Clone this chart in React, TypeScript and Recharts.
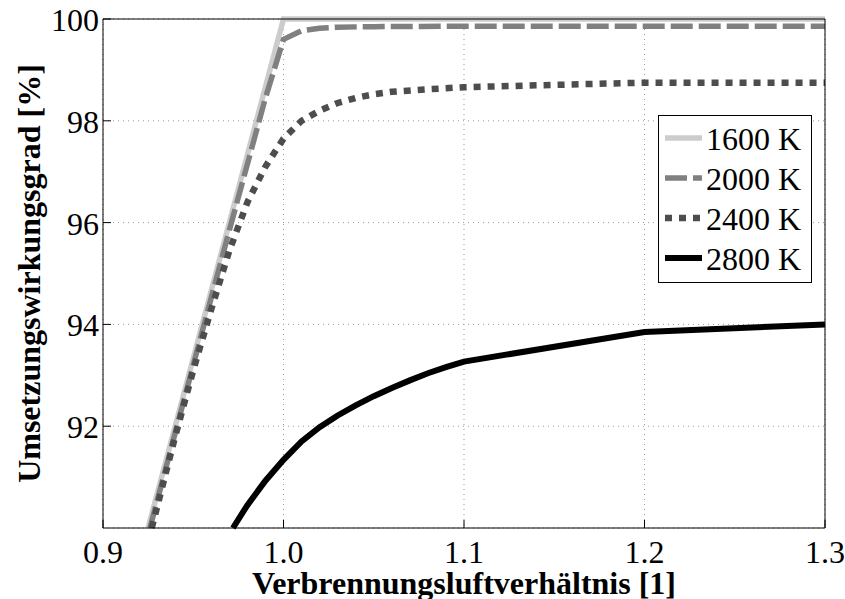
import { LineChart, Line, XAxis, YAxis, CartesianGrid, Legend } from "recharts";

// air ratio lambda [-] and conversion efficiency [%] per flame temperature
const lambda1600 = [0.925, 1.0, 1.1, 1.2, 1.3];
const eta1600 = [90, 100, 100, 100, 100];

const lambda2000 = [0.926, 0.95, 0.97, 0.99, 1.0, 1.01, 1.02, 1.03, 1.05, 1.1, 1.2, 1.3];
const eta2000 = [90, 93.2, 95.85, 98.45, 99.6, 99.77, 99.82, 99.84, 99.85, 99.86, 99.86, 99.86];

const lambda2400 = [0.927, 0.94, 0.95, 0.96, 0.97, 0.98, 0.99, 1.0, 1.01, 1.02, 1.03, 1.04, 1.05, 1.06, 1.08, 1.1, 1.2, 1.3];
const eta2400 = [90, 91.8, 93.1, 94.3, 95.45, 96.4, 97.1, 97.65, 98.0, 98.2, 98.35, 98.45, 98.52, 98.57, 98.62, 98.66, 98.75, 98.75];

const lambda2800 = [0.972, 0.98, 0.99, 1.0, 1.01, 1.02, 1.03, 1.04, 1.05, 1.06, 1.07, 1.08, 1.09, 1.1, 1.2, 1.3];
const eta2800 = [90, 90.45, 90.93, 91.34, 91.7, 91.98, 92.21, 92.41, 92.59, 92.75, 92.9, 93.04, 93.16, 93.27, 93.85, 94.0];

const xTicks = [0.9, 1.0, 1.1, 1.2, 1.3];
const yTicks = [92, 94, 96, 98, 100];

const FONT = "'Liberation Serif', 'Times New Roman', Times, serif";
const TICK = 8;

const toRows = (lam: number[], eta: number[]) => lam.map((l, i) => ({ lam: l, eta: eta[i] }));

const series = [
    { name: "1600 K", data: toRows(lambda1600, eta1600), color: "#cccccc", width: 5.5, dash: undefined },
    { name: "2000 K", data: toRows(lambda2000, eta2000), color: "#808080", width: 5.5, dash: "22 6" },
    { name: "2400 K", data: toRows(lambda2400, eta2400), color: "#4d4d4d", width: 6.5, dash: "7 7" },
    { name: "2800 K", data: toRows(lambda2800, eta2800), color: "#000000", width: 6, dash: undefined },
];

function BottomTick({ x, y, payload }: any) {
    return (
        <g>
            <line x1={x} y1={y} x2={x} y2={y - TICK} stroke="#000" />
            <text x={x} y={y + 35} textAnchor="middle" fontFamily={FONT} fontSize={32} fill="#000">
                {Number(payload.value).toFixed(1)}
            </text>
        </g>
    );
}

function LeftTick({ x, y, payload }: any) {
    return (
        <g>
            <line x1={x} y1={y} x2={x + TICK} y2={y} stroke="#000" />
            <text x={x - 4} y={y + 12} textAnchor="end" fontFamily={FONT} fontSize={32} fill="#000">
                {payload.value}
            </text>
        </g>
    );
}

function TopTick({ x, y }: any) {
    return <line x1={x} y1={y} x2={x} y2={y + TICK} stroke="#000" />;
}

function RightTick({ x, y }: any) {
    return <line x1={x} y1={y} x2={x - TICK} y2={y} stroke="#000" />;
}

function LegendBox() {
    return (
        <svg width={154} height={168} style={{ display: "block" }}>
            <rect x={0.5} y={0.5} width={153} height={167} fill="#fff" stroke="#000" />
            {series.map((s, i) => (
                <g key={s.name}>
                    <line
                        x1={7}
                        x2={44}
                        y1={23 + 40 * i}
                        y2={23 + 40 * i}
                        stroke={s.color}
                        strokeWidth={s.width}
                        strokeDasharray={s.dash}
                    />
                    <text x={48} y={35 + 40 * i} fontFamily={FONT} fontSize={32} fill="#000">
                        {s.name}
                    </text>
                </g>
            ))}
        </svg>
    );
}

export default function App() {
    return (
        <div style={{ position: "absolute", left: 0, top: 0, width: 845, height: 599, background: "#fff" }}>
            <LineChart width={845} height={599} margin={{ top: 0, right: 0, bottom: 0, left: 0 }}>
                <CartesianGrid stroke="#999" strokeDasharray="1 4" />
                <XAxis
                    dataKey="lam"
                    type="number"
                    domain={[0.9, 1.3]}
                    ticks={xTicks}
                    interval={0}
                    height={71}
                    tickSize={0}
                    tickMargin={0}
                    tickLine={false}
                    axisLine={{ stroke: "#000" }}
                    tick={(p: any) => <BottomTick {...p} />}
                    label={(p: any) => {
                        const vb = p.viewBox;
                        return (
                            <text
                                x={vb.x + vb.width / 2}
                                y={vb.y + 66}
                                textAnchor="middle"
                                fontFamily={FONT}
                                fontSize={32}
                                fontWeight="bold"
                                fill="#000"
                            >
                                Verbrennungsluftverhältnis [1]
                            </text>
                        );
                    }}
                />
                <XAxis
                    xAxisId="top"
                    orientation="top"
                    dataKey="lam"
                    type="number"
                    domain={[0.9, 1.3]}
                    ticks={[1.0, 1.1, 1.2]}
                    interval={0}
                    height={19}
                    tickSize={0}
                    tickMargin={0}
                    tickLine={false}
                    axisLine={{ stroke: "#000" }}
                    tick={(p: any) => <TopTick {...p} />}
                />
                <YAxis
                    type="number"
                    domain={[90, 100]}
                    ticks={yTicks}
                    interval={0}
                    width={103}
                    tickSize={0}
                    tickMargin={0}
                    tickLine={false}
                    axisLine={{ stroke: "#000" }}
                    tick={(p: any) => <LeftTick {...p} />}
                    label={(p: any) => {
                        const vb = p.viewBox;
                        const cx = 40;
                        const cy = vb.y + vb.height / 2;
                        return (
                            <text
                                x={cx}
                                y={cy}
                                transform={`rotate(-90, ${cx}, ${cy})`}
                                textAnchor="middle"
                                fontFamily={FONT}
                                fontSize={32}
                                fontWeight="bold"
                                fill="#000"
                            >
                                Umsetzungswirkungsgrad [%]
                            </text>
                        );
                    }}
                />
                <YAxis
                    yAxisId="right"
                    orientation="right"
                    type="number"
                    domain={[90, 100]}
                    ticks={[92, 94, 96, 98]}
                    interval={0}
                    width={20}
                    tickSize={0}
                    tickMargin={0}
                    tickLine={false}
                    axisLine={{ stroke: "#000" }}
                    tick={(p: any) => <RightTick {...p} />}
                />
                <Legend
                    layout="vertical"
                    align="center"
                    verticalAlign="middle"
                    wrapperStyle={{ left: 658, top: 115, width: 154, height: 168 }}
                    content={() => <LegendBox />}
                />
                {series.map((s) => (
                    <Line
                        key={s.name}
                        data={s.data}
                        dataKey="eta"
                        name={s.name}
                        type="linear"
                        stroke={s.color}
                        strokeWidth={s.width}
                        strokeDasharray={s.dash}
                        strokeLinecap="butt"
                        dot={false}
                        activeDot={false}
                        isAnimationActive={false}
                    />
                ))}
            </LineChart>
        </div>
    );
}
